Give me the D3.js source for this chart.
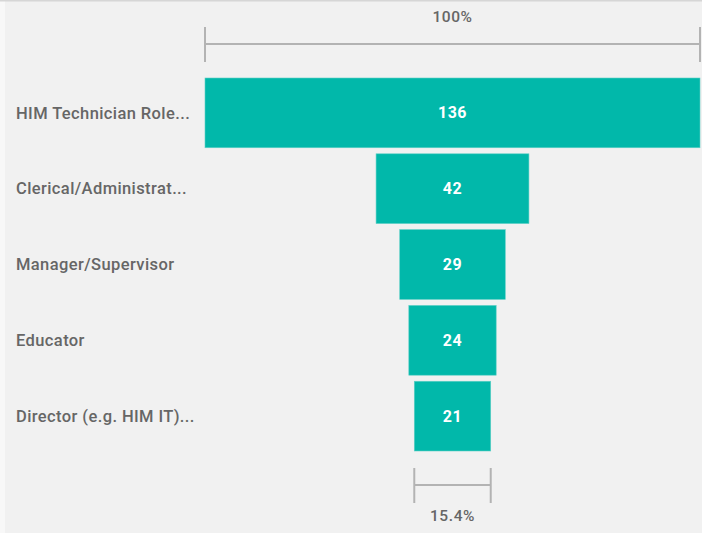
<!DOCTYPE html>
<meta charset="utf-8">
<html>
<head>
<style>
  body { margin: 0; background: #f1f1f1; }
  svg { display: block; }
  text { font-family: Roboto, "DejaVu Sans", sans-serif; }
</style>
<script src="https://d3js.org/d3.v7.min.js"></script>
</head>
<body>
<svg width="702" height="533"></svg>
<script>
// categories and values of the funnel
var categories = ["HIM Technician Role...", "Clerical/Administrat...", "Manager/Supervisor", "Educator", "Director (e.g. HIM IT)..."];
var counts = [136, 42, 29, 24, 21];
var topLabel = "100%";
var bottomLabel = "15.4%";

var svg = d3.select("svg");

// frame: light left strip and top line like the source report
svg.append("rect").attr("x", 0).attr("y", 0).attr("width", 702).attr("height", 533).attr("fill", "#f1f1f1");
svg.append("rect").attr("x", 0).attr("y", 0).attr("width", 5).attr("height", 533).attr("fill", "#f8f8f8");
svg.append("rect").attr("x", 0).attr("y", 0).attr("width", 702).attr("height", 1.5).attr("fill", "#d6d6d6");

var cx = 452.5;

var w = d3.scaleLinear().domain([0, d3.max(counts)]).range([0, 495]);
var y = d3.scaleBand().domain(categories).range([78, 451]).paddingInner(0.08);

var data = categories.map(function(c, i) { return {cat: c, v: counts[i]}; });

var g = svg.append("g");

g.selectAll(".bar")
  .data(data)
  .enter().append("rect")
  .attr("class", "bar")
  .attr("x", function(d) { return cx - w(d.v) / 2; })
  .attr("y", function(d) { return y(d.cat); })
  .attr("width", function(d) { return w(d.v); })
  .attr("height", y.bandwidth())
  .attr("fill", "#01b8aa")
  .attr("stroke", "#5fd0c6")
  .attr("stroke-width", 0.6);

g.selectAll(".val")
  .data(data)
  .enter().append("text")
  .attr("x", cx)
  .attr("y", function(d) { return y(d.cat) + y.bandwidth() / 2; })
  .attr("dy", "0.35em")
  .attr("text-anchor", "middle")
  .attr("fill", "#fff")
  .attr("font-size", "16px")
  .attr("font-weight", "bold")
  .attr("letter-spacing", "0.5px")
  .text(function(d) { return d.v; });

g.selectAll(".cat")
  .data(data)
  .enter().append("text")
  .attr("x", 16)
  .attr("y", function(d) { return y(d.cat) + y.bandwidth() / 2; })
  .attr("dy", "0.35em")
  .attr("fill", "#666")
  .attr("font-size", "16.5px")
  .attr("font-weight", 500)
  .attr("letter-spacing", "0.4px")
  .text(function(d) { return d.cat; });

// percentage brackets
function bracket(v, yy, labelY, label) {
  var half = w(v) / 2;
  var b = svg.append("g").attr("stroke", "#b3b3b3").attr("stroke-width", 2);
  b.append("line").attr("x1", cx - half).attr("x2", cx + half).attr("y1", yy).attr("y2", yy);
  b.append("line").attr("x1", cx - half).attr("x2", cx - half).attr("y1", yy - 17).attr("y2", yy + 18);
  b.append("line").attr("x1", cx + half).attr("x2", cx + half).attr("y1", yy - 17).attr("y2", yy + 18);
  svg.append("text")
    .attr("x", cx)
    .attr("y", labelY)
    .attr("dy", "0.35em")
    .attr("text-anchor", "middle")
    .attr("fill", "#666")
    .attr("font-size", "15.5px")
    .attr("font-weight", 500)
    .attr("letter-spacing", "0.6px")
    .text(label);
}
bracket(counts[0], 44, 17, topLabel);
bracket(counts[counts.length - 1], 485, 516, bottomLabel);
</script>
</body>
</html>
